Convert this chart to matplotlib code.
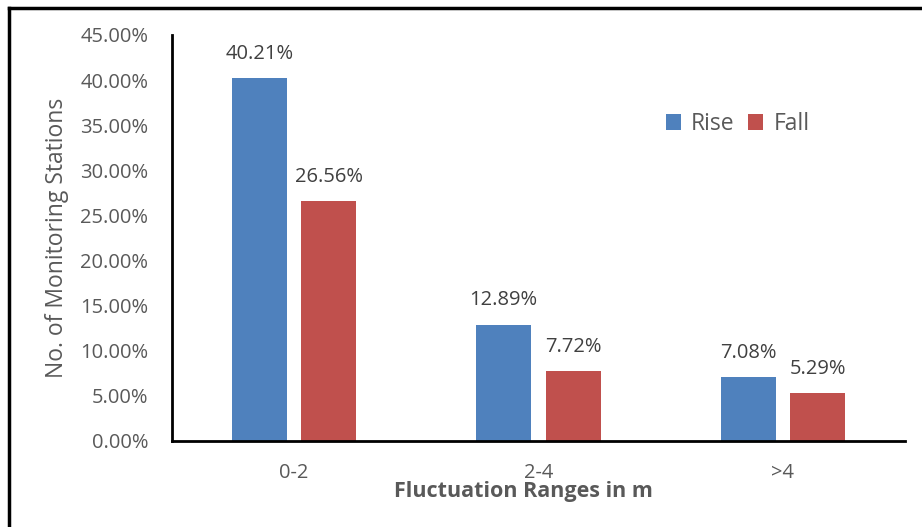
import matplotlib
matplotlib.use("Agg")
import matplotlib.pyplot as plt
from matplotlib import lines
import numpy as np

categories = ["0-2", "2-4", ">4"]
rise = [40.21, 12.89, 7.08]
fall = [26.56, 7.72, 5.29]
series_names = ["Rise", "Fall"]
y_ticks = [0, 5, 10, 15, 20, 25, 30, 35, 40, 45]

plt.rcParams['font.family'] = ['Open Sans', 'DejaVu Sans']
gray = "#595959"
colors = ["#4F81BD", "#C0504D"]

fig = plt.figure(figsize=(9.22, 5.27), dpi=100)
ax = fig.add_axes([172 / 922, 1 - 441 / 527, 733 / 922, 406 / 527])

x = np.arange(len(categories))
width = 0.225
offset = 0.1425
bars_r = ax.bar(x - offset, rise, width, color=colors[0], label=series_names[0])
bars_f = ax.bar(x + offset, fall, width, color=colors[1], label=series_names[1])

for bars, vals in ((bars_r, rise), (bars_f, fall)):
    for b, v in zip(bars, vals):
        ax.text(b.get_x() + b.get_width() / 2, v + 1.6, "%.2f%%" % v,
                ha="center", va="bottom", fontsize=14.5, color="#404040")

ax.set_xlim(-0.5, len(categories) - 0.5)
ax.set_ylim(0, 45)
ax.set_yticks(y_ticks)
ax.set_yticklabels(["%.2f%%" % t for t in y_ticks])
ax.set_xticks(x)
ax.set_xticklabels(categories)
ax.tick_params(axis="both", length=0, labelsize=14.5, colors=gray)
ax.tick_params(axis="y", pad=17)
ax.tick_params(axis="x", pad=16)

for s in ("top", "right"):
    ax.spines[s].set_visible(False)
ax.spines["left"].set_linewidth(2)
ax.spines["bottom"].set_linewidth(2)

ax.set_ylabel("No. of Monitoring Stations", fontsize=16.5, color=gray, labelpad=8)
fig.text(523 / 922, 1 - 492 / 527, "Fluctuation Ranges in m", ha="center",
         va="center", fontsize=15.5, fontweight="bold", color=gray)

leg = ax.legend(loc="center left", bbox_to_anchor=(645 / 922, 1 - 124 / 527),
                bbox_transform=fig.transFigure, ncol=2, frameon=False,
                fontsize=16.5, handlelength=0.65, handleheight=0.65,
                handletextpad=0.45, columnspacing=0.6, labelcolor=gray)

# border lines along the top and left of the figure
fig.add_artist(lines.Line2D([9 / 922, 1.0], [1 - 8 / 527, 1 - 8 / 527],
                            color="black", linewidth=2.5,
                            transform=fig.transFigure))
fig.add_artist(lines.Line2D([9 / 922, 9 / 922], [0, 1 - 8 / 527],
                            color="black", linewidth=2.5,
                            transform=fig.transFigure))

fig.savefig("out.png", dpi=100, facecolor="white")
